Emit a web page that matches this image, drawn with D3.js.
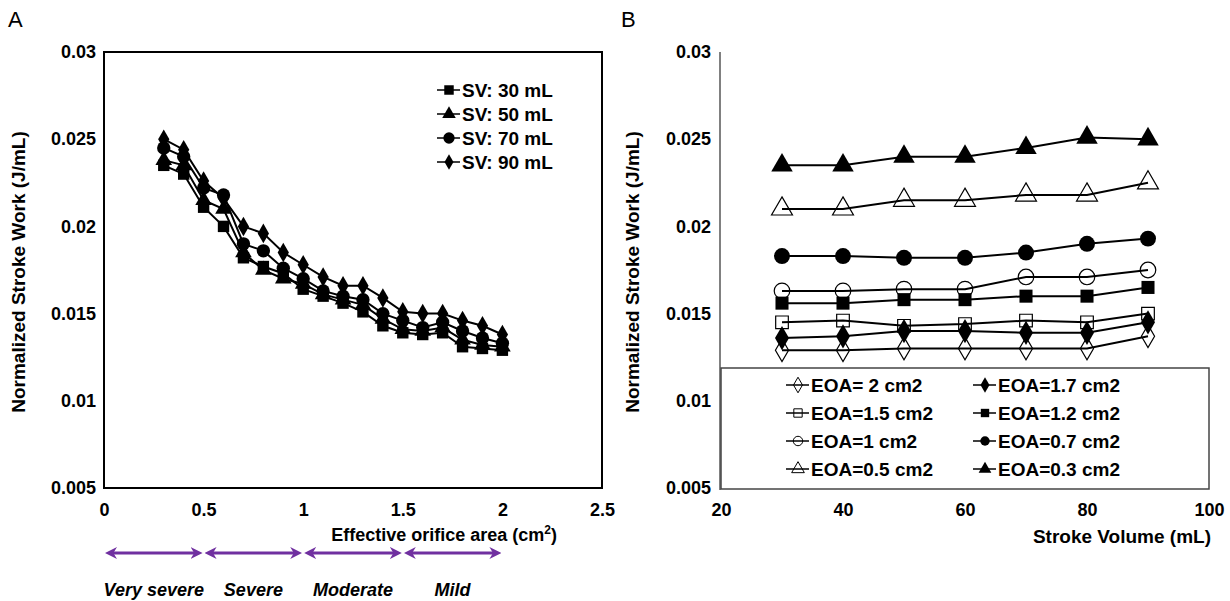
<!DOCTYPE html>
<html>
<head>
<meta charset="utf-8">
<script src="https://cdn.jsdelivr.net/npm/d3@7"></script>
<style>
  body { margin: 0; background: #fff; }
  text { font-family: "Liberation Sans", Arial, sans-serif; }
</style>
</head>
<body>
<script>
// panel A: work vs EOA, one line per stroke volume
const eoa = [0.3, 0.4, 0.5, 0.6, 0.7, 0.8, 0.9, 1.0, 1.1, 1.2, 1.3, 1.4, 1.5, 1.6, 1.7, 1.8, 1.9, 2.0];
const sv30 = [0.0235, 0.0230, 0.0211, 0.0200, 0.0182, 0.0177, 0.0173, 0.0164, 0.0160, 0.0156, 0.0151, 0.0143, 0.0139, 0.0138, 0.0139, 0.0131, 0.0130, 0.0129];
const sv50 = [0.0238, 0.0235, 0.0215, 0.0210, 0.0185, 0.0175, 0.0170, 0.0167, 0.0161, 0.0158, 0.0155, 0.0147, 0.0141, 0.0140, 0.0142, 0.0135, 0.0132, 0.0131];
const sv70 = [0.0245, 0.0240, 0.0222, 0.0218, 0.0190, 0.0186, 0.0176, 0.0170, 0.0163, 0.0160, 0.0158, 0.0150, 0.0146, 0.0142, 0.0145, 0.0140, 0.0136, 0.0133];
const sv90 = [0.0250, 0.0244, 0.0226, 0.0216, 0.0200, 0.0196, 0.0185, 0.0178, 0.0171, 0.0166, 0.0166, 0.0159, 0.0151, 0.0150, 0.0150, 0.0146, 0.0143, 0.0138];

// panel B: work vs stroke volume, one line per EOA
const strokeVol = [30, 40, 50, 60, 70, 80, 90];
const eoa20 = [0.0129, 0.0129, 0.0130, 0.0130, 0.0130, 0.0130, 0.0137];
const eoa17 = [0.0136, 0.0137, 0.0140, 0.0140, 0.0139, 0.0139, 0.0145];
const eoa15 = [0.0145, 0.0146, 0.0143, 0.0144, 0.0146, 0.0145, 0.0150];
const eoa12 = [0.0156, 0.0156, 0.0158, 0.0158, 0.0160, 0.0160, 0.0165];
const eoa10 = [0.0163, 0.0163, 0.0164, 0.0164, 0.0171, 0.0171, 0.0175];
const eoa07 = [0.0183, 0.0183, 0.0182, 0.0182, 0.0185, 0.0190, 0.0193];
const eoa05 = [0.0210, 0.0210, 0.0215, 0.0215, 0.0218, 0.0218, 0.0225];
const eoa03 = [0.0235, 0.0235, 0.0240, 0.0240, 0.0245, 0.0251, 0.0250];

const yTicks = [0.005, 0.01, 0.015, 0.02, 0.025, 0.03];
const yTickLabels = ["0.005", "0.01", "0.015", "0.02", "0.025", "0.03"];
const xTicksA = [0, 0.5, 1, 1.5, 2, 2.5];
const xTickLabelsA = ["0", "0.5", "1", "1.5", "2", "2.5"];
const xTicksB = [20, 40, 60, 80, 100];
// severity bands under panel A, in EOA units
const severity = ["Very severe", "Severe", "Moderate", "Mild"];
const severityEdges = [0, 0.5, 1, 1.5, 2];

const W = 1230, H = 601;
const svg = d3.select("body").append("svg").attr("width", W).attr("height", H);

const y = d3.scaleLinear().domain([0.005, 0.03]).range([488, 52]);
const xA = d3.scaleLinear().domain([0, 2.5]).range([104, 602]);
const xB = d3.scaleLinear().domain([20, 100]).range([721, 1209]);

const shapes = {
  square: d3.symbolSquare,
  triangle: d3.symbolTriangle,
  circle: d3.symbolCircle,
  diamond: d3.symbolDiamond
};

function yAxis(x0, label, lx) {
  const g = svg.append("g").attr("transform", `translate(${x0},0)`)
    .call(d3.axisLeft(y).tickValues(yTicks).tickSize(0).tickPadding(8)
      .tickFormat((d, i) => yTickLabels[i]));
  g.select(".domain").remove();
  g.selectAll("text").attr("font-size", 18).attr("font-weight", "bold")
    .attr("fill", "#000").style("font-family", "Liberation Sans, Arial, sans-serif");
  svg.append("text")
    .attr("transform", `translate(${lx},272) rotate(-90)`)
    .attr("text-anchor", "middle")
    .attr("font-size", 19).attr("font-weight", "bold")
    .text(label);
}

function xAxis(x, ticks, fmt) {
  const g = svg.append("g").attr("transform", "translate(0,490)")
    .call(d3.axisBottom(x).tickValues(ticks).tickSize(0).tickPadding(13).tickFormat(fmt));
  g.select(".domain").remove();
  g.selectAll("text").attr("font-size", 18).attr("font-weight", "bold")
    .attr("fill", "#000").style("font-family", "Liberation Sans, Arial, sans-serif");
}

function series(xs, vals, x, shape, size, open) {
  const pts = xs.map((v, i) => [x(v), y(vals[i])]);
  svg.append("path").attr("d", d3.line()(pts))
    .attr("fill", "none").attr("stroke", "#000").attr("stroke-width", 2);
  svg.append("g").selectAll("path").data(pts).enter().append("path")
    .attr("transform", d => `translate(${d[0]},${d[1]})`)
    .attr("d", d3.symbol().type(shapes[shape]).size(size))
    .attr("fill", open ? "none" : "#000")
    .attr("stroke", "#000").attr("stroke-width", open ? 1.2 : 0);
}

function legendItem(lx, ly, label, shape, size, open, fs) {
  svg.append("line").attr("x1", lx - 12).attr("x2", lx + 11).attr("y1", ly).attr("y2", ly)
    .attr("stroke", "#000").attr("stroke-width", 1.5);
  svg.append("path").attr("transform", `translate(${lx},${ly})`)
    .attr("d", d3.symbol().type(shapes[shape]).size(size))
    .attr("fill", open ? "none" : "#000").attr("stroke", "#000").attr("stroke-width", open ? 1 : 0);
  svg.append("text").attr("x", lx + 13).attr("y", ly + 7)
    .attr("font-size", fs).attr("font-weight", "bold").text(label);
}

// ---------- panel A ----------
svg.append("text").attr("x", 8).attr("y", 27).attr("font-size", 22).text("A");
yAxis(104, "Normalized Stroke Work (J/mL)", 25);
xAxis(xA, xTicksA, (d, i) => xTickLabelsA[i]);

svg.append("rect").attr("x", xA(0)).attr("y", y(0.03))
  .attr("width", xA(2.5) - xA(0)).attr("height", y(0.005) - y(0.03))
  .attr("fill", "none").attr("stroke", "#000").attr("stroke-width", 2);

series(eoa, sv30, xA, "square", 130, false);
series(eoa, sv50, xA, "triangle", 120, false);
series(eoa, sv70, xA, "circle", 140, false);
series(eoa, sv90, xA, "diamond", 110, false);

legendItem(449, 90, "SV: 30 mL", "square", 90, false, 19);
legendItem(449, 114, "SV: 50 mL", "triangle", 80, false, 19);
legendItem(449, 138, "SV: 70 mL", "circle", 100, false, 19);
legendItem(449, 162, "SV: 90 mL", "diamond", 70, false, 19);

const xlabA = svg.append("text").attr("x", 557).attr("y", 541)
  .attr("text-anchor", "end").attr("font-size", 18).attr("font-weight", "bold");
xlabA.append("tspan").text("Effective orifice area (cm");
xlabA.append("tspan").attr("font-size", 12).attr("dy", -7).text("2");
xlabA.append("tspan").attr("dy", 7).text(")");

// severity arrows
const purple = "#7030a0";
svg.append("defs").selectAll("marker").data(["s", "e"]).enter().append("marker")
  .attr("id", d => "arr-" + d)
  .attr("viewBox", "0 0 10 10").attr("refX", 5).attr("refY", 5)
  .attr("markerWidth", 4).attr("markerHeight", 4)
  .attr("markerUnits", "strokeWidth")
  .attr("orient", "auto-start-reverse")
  .append("path").attr("d", "M0,0 L10,5 L0,10 L3,5 Z").attr("fill", purple);

severity.forEach((s, i) => {
  const a = xA(severityEdges[i]) + 3, b = xA(severityEdges[i + 1]) - 3;
  svg.append("line").attr("x1", a + 4).attr("x2", b - 4).attr("y1", 553).attr("y2", 553)
    .attr("stroke", purple).attr("stroke-width", 3)
    .attr("marker-start", "url(#arr-s)").attr("marker-end", "url(#arr-e)");
  svg.append("text").attr("x", (a + b) / 2).attr("y", 596)
    .attr("text-anchor", "middle").attr("font-size", 18)
    .attr("font-weight", "bold").attr("font-style", "italic").text(s);
});

// ---------- panel B ----------
svg.append("text").attr("x", 621).attr("y", 27).attr("font-size", 22).text("B");
yAxis(719, "Normalized Stroke Work (J/mL)", 639);
xAxis(xB, xTicksB, d3.format("d"));

svg.append("line").attr("x1", 720).attr("x2", 720).attr("y1", y(0.03)).attr("y2", 490)
  .attr("stroke", "#808080").attr("stroke-width", 2);

series(strokeVol, eoa20, xB, "diamond", 150, true);
series(strokeVol, eoa17, xB, "diamond", 170, false);
series(strokeVol, eoa15, xB, "square", 160, true);
series(strokeVol, eoa12, xB, "square", 170, false);
series(strokeVol, eoa10, xB, "circle", 190, true);
series(strokeVol, eoa07, xB, "circle", 200, false);
series(strokeVol, eoa05, xB, "triangle", 190, true);
series(strokeVol, eoa03, xB, "triangle", 200, false);

svg.append("rect").attr("x", 721).attr("y", 368).attr("width", 488).attr("height", 121)
  .attr("fill", "#fff").attr("stroke", "#444").attr("stroke-width", 1.5);

const legB = [
  ["EOA= 2 cm2", "diamond", true], ["EOA=1.7 cm2", "diamond", false],
  ["EOA=1.5 cm2", "square", true], ["EOA=1.2 cm2", "square", false],
  ["EOA=1 cm2", "circle", true], ["EOA=0.7 cm2", "circle", false],
  ["EOA=0.5 cm2", "triangle", true], ["EOA=0.3 cm2", "triangle", false]
];
legB.forEach((d, i) => {
  const col = i % 2, row = Math.floor(i / 2);
  legendItem(col ? 985 : 798, 385 + row * 28, d[0], d[1], 70, d[2], 19);
});

svg.append("text").attr("x", 1211).attr("y", 543)
  .attr("text-anchor", "end").attr("font-size", 19).attr("font-weight", "bold")
  .text("Stroke Volume (mL)");
</script>
</body>
</html>
